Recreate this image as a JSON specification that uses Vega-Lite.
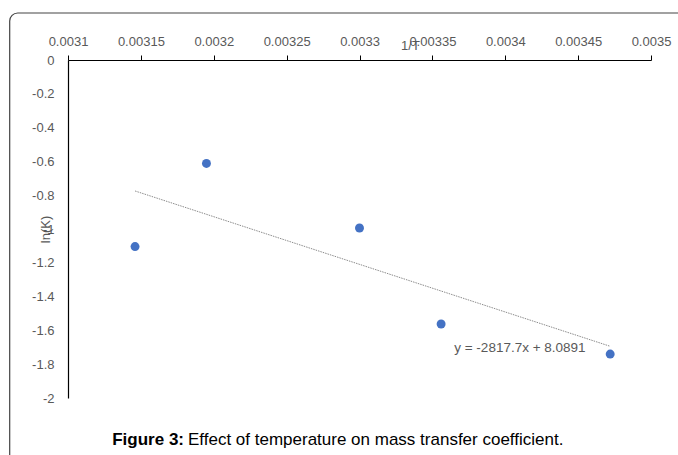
{
  "$schema": "https://vega.github.io/schema/vega-lite/v6.json",
  "width": 583,
  "height": 338,
  "autosize": {"type": "none"},
  "padding": {"left": 68, "top": 60, "right": 27, "bottom": 57},
  "background": "white",
  "config": {
    "view": {"stroke": null},
    "font": "Liberation Sans",
    "axis": {"grid": false, "labelOverlap": false, "labelColor": "#595959", "labelFontSize": 13, "labelFont": "Liberation Sans", "domainColor": "#000", "domainWidth": 1.2, "titleColor": "#595959", "titleFontSize": 13, "titleFontWeight": "normal", "labelFlush": false},
    "axisX": {"tickColor": "#000", "tickSize": 5, "labelPadding": 7},
    "axisY": {"ticks": false, "labelPadding": 14}
  },
  "datasets": {
    "pts": [
      {"invT": 0.003146, "lnK": -1.104},
      {"invT": 0.003195, "lnK": -0.612},
      {"invT": 0.0033, "lnK": -0.994},
      {"invT": 0.003356, "lnK": -1.562},
      {"invT": 0.003472, "lnK": -1.74}
    ],
    "trend": [
      {"invT": 0.003146, "lnK": -0.775},
      {"invT": 0.003472, "lnK": -1.694}
    ]
  },
  "layer": [
    {
      "data": {"name": "pts"},
      "mark": {"type": "circle", "size": 80, "color": "#4472C4", "opacity": 1},
      "encoding": {
        "x": {
          "field": "invT", "type": "quantitative",
          "scale": {"domain": [0.0031, 0.0035], "nice": false, "zero": false},
          "axis": {
            "orient": "top", "values": [0.0031, 0.00315, 0.0032, 0.00325, 0.0033, 0.00335, 0.0034, 0.00345, 0.0035],
            "labelExpr": "toString(datum.value)", "labelOverlap": false,
            "title": "1/T", "titleX": 342, "titleY": -15, "titleBaseline": "middle", "titleAngle": 0
          }
        },
        "y": {
          "field": "lnK", "type": "quantitative",
          "scale": {"domain": [-2, 0], "nice": false, "zero": false},
          "axis": {
            "tickCount": 10, "labelOverlap": false, "format": "~g",
            "labelExpr": "replace(datum.label, '\u2212', '-')",
            "title": "ln(K)", "titleX": -23, "titleY": 169, "titleAngle": -90, "titleBaseline": "middle", "titleAlign": "center"
          }
        }
      }
    },
    {
      "data": {"values": [{"f": 1}]},
      "mark": {"type": "rect", "fill": null, "stroke": "#444", "strokeWidth": 1.2, "cornerRadius": 8, "clip": false},
      "encoding": {
        "x": {"datum": 0.00306, "type": "quantitative"},
        "x2": {"datum": 0.00354},
        "y": {"datum": 0.278, "type": "quantitative"},
        "y2": {"datum": -2.45}
      }
    },
    {
      "data": {"name": "trend"},
      "mark": {"type": "line", "color": "#8c8c8c", "strokeWidth": 1, "strokeDash": [1.5, 1]},
      "encoding": {
        "x": {"field": "invT", "type": "quantitative"},
        "y": {"field": "lnK", "type": "quantitative"}
      }
    },
    {
      "data": {"values": [{"t": "y = -2817.7x + 8.0891"}]},
      "mark": {"type": "text", "align": "left", "baseline": "middle", "fontSize": 13.5, "color": "#595959", "clip": false},
      "encoding": {
        "x": {"datum": 0.003365, "type": "quantitative"},
        "y": {"datum": -1.704, "type": "quantitative"},
        "text": {"field": "t"}
      }
    },
    {
      "data": {"values": [{"t": "Figure 3:"}]},
      "mark": {"type": "text", "align": "right", "baseline": "middle", "fontSize": 17, "fontWeight": "bold", "color": "#000", "clip": false},
      "encoding": {
        "x": {"datum": 0.0031796, "type": "quantitative"},
        "y": {"datum": -2.249, "type": "quantitative"},
        "text": {"field": "t"}
      }
    },
    {
      "data": {"values": [{"t": "Effect of temperature on mass transfer coefficient."}]},
      "mark": {"type": "text", "align": "left", "baseline": "middle", "fontSize": 17, "color": "#000", "clip": false},
      "encoding": {
        "x": {"datum": 0.0031823, "type": "quantitative"},
        "y": {"datum": -2.249, "type": "quantitative"},
        "text": {"field": "t"}
      }
    }
  ]
}
